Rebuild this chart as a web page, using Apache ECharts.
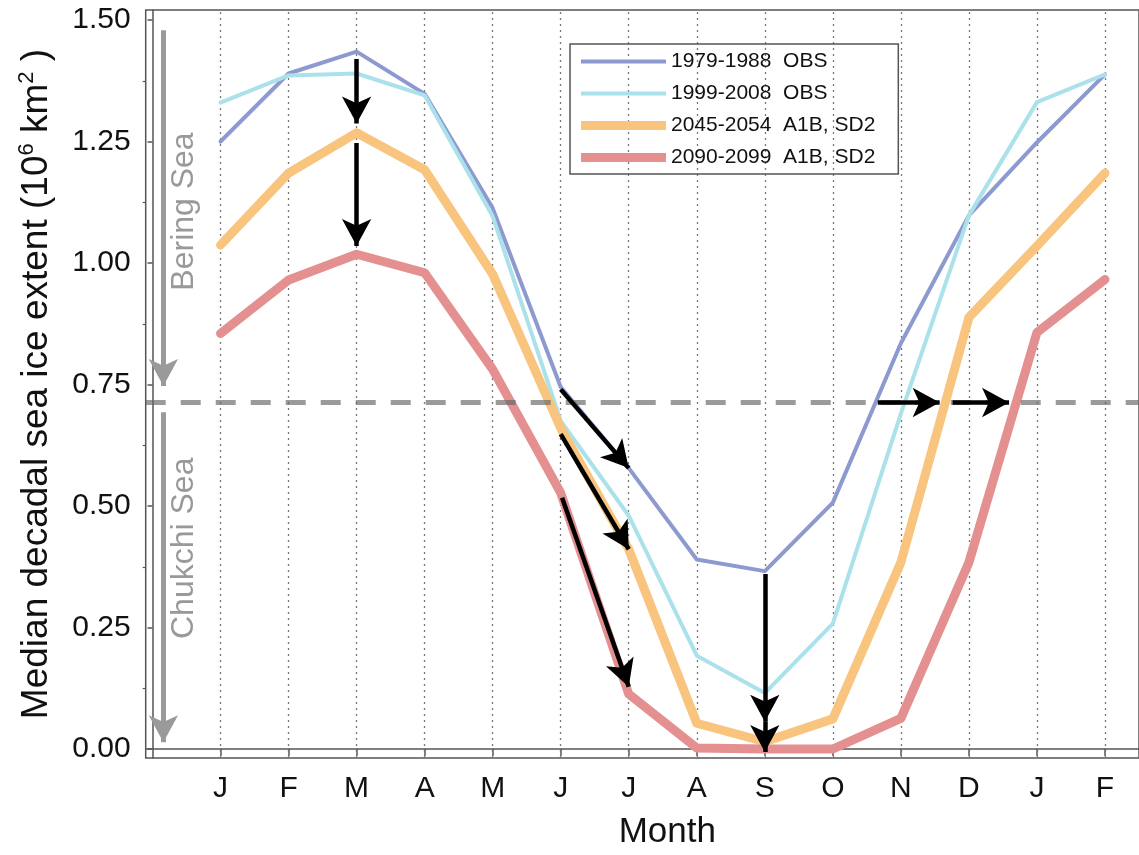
<!DOCTYPE html>
<html>
<head>
<meta charset="utf-8">
<script src="https://cdn.jsdelivr.net/npm/echarts@6/dist/echarts.min.js"></script>
<style>
  html, body { margin: 0; padding: 0; background: #fff; }
  #chart { width: 1139px; height: 855px; }
</style>
</head>
<body>
<div id="chart"></div>
<script>
// month positions on the x axis and their labels
const monthPos = [1, 2, 3, 4, 5, 6, 7, 8, 9, 10, 11, 12, 13, 14];
const monthLabels = ['J', 'F', 'M', 'A', 'M', 'J', 'J', 'A', 'S', 'O', 'N', 'D', 'J', 'F'];

// median decadal sea ice extent (10^6 km^2)
const obs1979 = [1.250, 1.390, 1.435, 1.348, 1.113, 0.745, 0.578, 0.390, 0.366, 0.507, 0.835, 1.098, 1.248, 1.388];
const obs1999 = [1.330, 1.386, 1.390, 1.345, 1.096, 0.675, 0.480, 0.192, 0.115, 0.258, 0.690, 1.098, 1.331, 1.388];
const a1b2045 = [1.037, 1.185, 1.268, 1.192, 0.977, 0.660, 0.411, 0.053, 0.015, 0.062, 0.384, 0.888, 1.035, 1.185];
const a1b2090 = [0.855, 0.965, 1.018, 0.980, 0.781, 0.527, 0.113, 0.002, 0.000, 0.000, 0.063, 0.384, 0.857, 0.966];

const yTicks = [0, 0.25, 0.5, 0.75, 1.0, 1.25, 1.5];
const yMinorTicks = [0.125, 0.375, 0.625, 0.875, 1.125, 1.375];

// Bering / Chukchi boundary
const boundary = 0.713;

// black arrows [start, tip]
const blackArrows = [
  [[3, 1.420], [3, 1.287]],
  [[3, 1.247], [3, 1.035]],
  [[6, 0.740], [7, 0.578]],
  [[6, 0.648], [7, 0.411]],
  [[6.02, 0.517], [7, 0.128]],
  [[9, 0.360], [9, 0.056]],
  [[9, 0.056], [9, -0.006]],
  [[10.66, 0.713], [11.57, 0.713]],
  [[11.76, 0.713], [12.59, 0.713]]
];
// grey region arrows [start, tip]
const greyArrows = [
  [[0.16, 1.479], [0.16, 0.747]],
  [[0.16, 0.693], [0.16, 0.014]]
];
const regionLabels = [
  [0.46, 1.106, 'Bering Sea'],
  [0.46, 0.413, 'Chukchi Sea']
];

const xMin = -0.1, xMax = 14.5;
const yMin = -0.0185, yMax = 1.5206;

const pair = arr => monthPos.map((m, i) => [m, arr[i]]);

const chart = echarts.init(document.getElementById('chart'));

function lineSeries(name, data, color, width) {
  return {
    name: name,
    type: 'line',
    data: pair(data),
    symbol: 'none',
    z: 3,
    lineStyle: { color: color, width: width, cap: 'round', join: 'round' },
    itemStyle: { color: color }
  };
}

const thinIcon = 'path://M0,0L85,0L85,4L0,4Z';
const thickIcon = 'path://M0,0L85,0L85,9L0,9Z';

const option = {
  animation: false,
  grid: {
    left: 145.7, right: -2.7, top: 10, bottom: 96,
    show: true, borderColor: '#555', borderWidth: 1.5
  },
  legend: {
    data: [
      { name: '1979-1988  OBS', icon: thinIcon },
      { name: '1999-2008  OBS', icon: thinIcon },
      { name: '2045-2054  A1B, SD2', icon: thickIcon },
      { name: '2090-2099  A1B, SD2', icon: thickIcon }
    ],
    orient: 'vertical',
    left: 570, top: 44,
    padding: [7, 23, 6, 11],
    itemWidth: 85, itemHeight: 14, itemGap: 11,
    symbolKeepAspect: true,
    borderColor: '#555', borderWidth: 1.5,
    itemStyle: { borderWidth: 0 },
    textStyle: { fontFamily: 'Liberation Sans, Arial', fontSize: 21, color: '#111', lineHeight: 20 }
  },
  xAxis: {
    type: 'value', min: xMin, max: xMax,
    axisLine: { lineStyle: { color: '#555', width: 1.5 } },
    axisTick: { customValues: monthPos, length: 7, lineStyle: { color: '#555', width: 1.5 } },
    axisLabel: {
      customValues: monthPos,
      formatter: v => monthLabels[monthPos.indexOf(v)],
      fontFamily: 'Liberation Sans, Arial', fontSize: 30, color: '#111', margin: 16
    },
    splitLine: { show: false },
    name: 'Month', nameLocation: 'middle', nameGap: 57,
    nameTextStyle: { fontFamily: 'Liberation Sans, Arial', fontSize: 35, color: '#111', padding: [0, 0, 0, 50] }
  },
  yAxis: [{
    type: 'value', min: yMin, max: yMax,
    axisLine: { show: true, lineStyle: { color: '#555', width: 1.5 } },
    axisTick: { show: true, customValues: yTicks, length: 5, lineStyle: { color: '#555', width: 1.5 } },
    axisLabel: {
      customValues: yTicks,
      formatter: v => v.toFixed(2),
      fontFamily: 'Liberation Sans, Arial', fontSize: 30, color: '#111', margin: 15
    },
    splitLine: { show: false },
    name: 'Median decadal sea ice extent (10{s|6} km{s|2} )',
    nameLocation: 'middle', nameGap: 88,
    nameTextStyle: {
      fontFamily: 'Liberation Sans, Arial', fontSize: 37, color: '#111', lineHeight: 42,
      rich: { s: { fontFamily: 'Liberation Sans, Arial', fontSize: 22, color: '#111', lineHeight: 24, verticalAlign: 'top' } }
    }
  }, {
    type: 'value', min: yMin, max: yMax, position: 'left',
    axisLine: { show: false },
    axisTick: { show: true, customValues: yMinorTicks, length: 3, lineStyle: { color: '#555', width: 1.2 } },
    axisLabel: { show: false },
    splitLine: { show: false }
  }],
  series: [
    {
      name: 'monthGrid',
      type: 'lines', coordinateSystem: 'cartesian2d', z: 1, silent: true,
      symbol: 'none',
      lineStyle: { color: '#777', width: 1.3, type: [2, 4], opacity: 1 },
      data: monthPos.map(m => ({ coords: [[m, yMin], [m, yMax]] }))
    },
    lineSeries('1979-1988  OBS', obs1979, '#8D9AD0', 4),
    lineSeries('1999-2008  OBS', obs1999, '#ABE1EA', 4),
    lineSeries('2045-2054  A1B, SD2', a1b2045, '#F8C47E', 9),
    lineSeries('2090-2099  A1B, SD2', a1b2090, '#E48F90', 9),
    {
      name: 'boundary',
      type: 'lines', coordinateSystem: 'cartesian2d', z: 5, silent: true,
      symbol: 'none',
      lineStyle: { color: 'rgba(100,100,100,0.65)', width: 5, type: [20, 15], opacity: 1 },
      data: [{ coords: [[xMin, boundary], [xMax, boundary]] }]
    },
    {
      name: 'greyArrows',
      type: 'lines', coordinateSystem: 'cartesian2d', z: 5, silent: true,
      symbol: ['none', 'arrow'], symbolSize: [1, [22, 27]],
      lineStyle: { color: '#9a9a9a', width: 5, opacity: 1 },
      data: greyArrows.map(a => ({ coords: a }))
    },
    {
      name: 'blackArrows',
      type: 'lines', coordinateSystem: 'cartesian2d', z: 6, silent: true,
      symbol: ['none', 'arrow'], symbolSize: [1, [22, 27]],
      lineStyle: { color: '#000', width: 4.5, opacity: 1 },
      data: blackArrows.map(a => ({ coords: a }))
    },
    {
      name: 'regions',
      type: 'scatter', z: 6, silent: true,
      symbolSize: 1, itemStyle: { color: 'rgba(0,0,0,0)' },
      data: regionLabels,
      label: {
        show: true, position: 'inside', rotate: 90,
        formatter: p => p.data[2],
        fontFamily: 'Liberation Sans, Arial', fontSize: 32, color: '#808080'
      }
    }
  ]
};

chart.setOption(option);
</script>
</body>
</html>
